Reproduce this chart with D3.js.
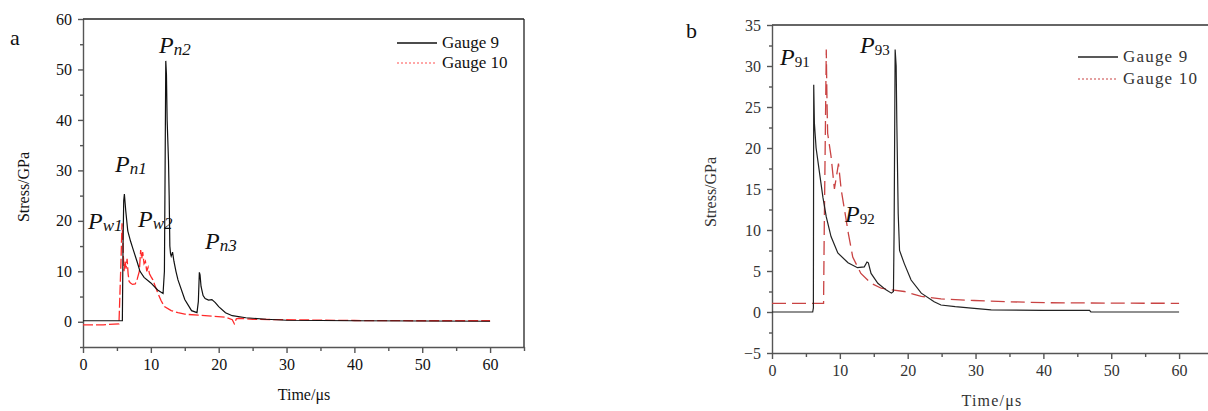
<!DOCTYPE html>
<html><head><meta charset="utf-8">
<script src="https://cdn.jsdelivr.net/npm/d3@7"></script>
<style>body{margin:0;background:#fff}svg{display:block}svg text{font-family:"Liberation Serif","DejaVu Serif",serif !important}</style>
</head><body><svg id="c" width="1208" height="411"></svg>
<script>
// ---- data ----
const aG9T = [0,5.8,5.9,6.0,6.1,6.3,6.6,7.0,7.4,8.0,8.4,9.0,10,11,11.8,12.0,12.1,12.2,12.3,12.4,12.6,12.7,12.8,12.9,13.0,13.2,13.4,13.7,14,15,16,16.8,17.0,17.15,17.25,17.4,17.7,18,18.5,19,19.5,20,21,22,24,27,30,40,50,60];
const aG9V = [0.2,0.2,15,24,25.3,22,18,16,14.3,11.8,10,8.8,7.7,6.3,5.6,10,30,51.7,49,40,32,25,15,13.5,13,13.8,12,10,8.3,4.4,2.2,1.8,4,9.8,9.3,7,5.2,4.6,4.3,4.4,3.8,3,1.8,1.2,0.8,0.5,0.3,0.2,0.15,0.1];
const aG10T = [0,3,5.3,5.6,5.75,5.85,5.95,6.05,6.2,6.35,6.5,6.65,6.8,7.0,7.3,7.7,8.0,8.3,8.5,8.65,8.8,9.0,9.2,9.4,9.6,9.8,10.0,10.3,10.6,11.0,11.5,12,13,14,15,17,19,21,22,22.3,22.6,23,25,30,40,50,60];
const aG10V = [-0.6,-0.6,-0.4,12,19.5,17,13,10,12,10.5,12.5,9.5,8,7.7,7.4,7.5,8.5,10,14.2,12.5,13.8,11.5,12,10,10.8,9.5,9.0,8.3,7.2,5.8,4.2,3,2.2,1.8,1.5,1.3,1.1,0.9,0.4,-0.4,0.6,0.7,0.5,0.4,0.25,0.2,0.2];
const bG9T = [0,6.0,6.1,6.15,6.25,6.5,7.0,7.5,8.0,8.7,9.7,11.2,12.6,13.6,14.0,14.2,14.6,15.6,16.8,17.6,17.9,18.0,18.15,18.3,18.4,18.6,18.8,19.5,20.5,22,23.9,24.9,27,29.8,32.3,40,46.8,47,60];
const bG9V = [0,0,0.5,27.7,23,20,17,14,11.6,9.2,7.2,6.0,5.4,5.5,6.1,6.0,4.7,3.5,2.7,2.3,2.5,10,32,30,23,12,7.5,5.9,3.9,2.3,1.25,0.85,0.65,0.45,0.25,0.2,0.2,0.0,0.0];
const bG10T = [0,7.6,7.7,8.0,8.1,8.2,8.7,9.2,9.8,10.2,10.7,11.25,11.9,13.1,14.6,16.1,17.6,19.5,22,24.9,29.8,34.8,40.7,50,60];
const bG10V = [1.05,1.05,10,32,26,21.8,19,15,18.1,14.9,12.4,9.6,6.7,4.7,3.5,2.9,2.7,2.5,1.9,1.6,1.4,1.25,1.13,1.08,1.06];
const xMajor = [0,10,20,30,40,50,60];
const xMinor = [5,15,25,35,45,55,65];
const aYMajor = [0,10,20,30,40,50,60];
const aYMinor = [-5,5,15,25,35,45,55];
const bYMajor = [-5,0,5,10,15,20,25,30,35];
const bYMinor = [-2.5,2.5,7.5,12.5,17.5,22.5,27.5,32.5];
const seriesNames = ["Gauge 9","Gauge 10"];

const FONT = '"Liberation Serif","DejaVu Serif",serif';
const svg = d3.select("#c");
svg.append("rect").attr("width",1208).attr("height",411).attr("fill","#fff");

function panel(o){
  const g = svg.append("g").attr("font-family",FONT);
  const x = d3.scaleLinear().domain([0,65]).range([o.x0,o.x1]);
  const y = d3.scaleLinear().domain(o.yd).range([o.y0,o.y1]);
  const fmt = d => d<0 ? "\u2212"+Math.abs(d) : String(d);
  const xa = g.append("g").attr("transform",`translate(0,${o.y0})`)
    .call(d3.axisBottom(x).tickValues(xMajor).tickSize(6).tickPadding(6).tickSizeOuter(0).tickFormat(fmt));
  const xm = g.append("g").attr("transform",`translate(0,${o.y0})`)
    .call(d3.axisBottom(x).tickValues(xMinor).tickSize(4).tickSizeOuter(0).tickFormat(""));
  const ya = g.append("g").attr("transform",`translate(${o.x0},0)`)
    .call(d3.axisLeft(y).tickValues(o.yMajor).tickSize(5).tickPadding(6).tickSizeOuter(0).tickFormat(fmt));
  const ym = g.append("g").attr("transform",`translate(${o.x0},0)`)
    .call(d3.axisLeft(y).tickValues(o.yMinor).tickSize(3).tickSizeOuter(0).tickFormat(""));
  [xa,xm,ya,ym].forEach(a=>{
    a.attr("font-family",FONT).attr("font-size",16);
    a.selectAll("path,line").attr("stroke",o.axisColor).attr("stroke-width",1.4);
    a.selectAll("text").attr("font-size",16).attr("fill",o.textColor).attr("font-family",FONT);
  });
  xm.select("path").remove(); ym.select("path").remove();
  g.append("line").attr("x1",o.x0).attr("x2",o.frameRight?o.x1:1208).attr("y1",o.y1).attr("y2",o.y1)
    .attr("stroke",o.frameColor).attr("stroke-width",1.3);
  if(o.frameRight) g.append("line").attr("x1",o.x1).attr("x2",o.x1).attr("y1",o.y1).attr("y2",o.y0)
    .attr("stroke",o.frameColor).attr("stroke-width",1.3);
  const line = d3.line().x(d=>x(d[0])).y(d=>y(d[1]));
  g.append("path").datum(o.g10T.map((t,i)=>[t,o.g10V[i]])).attr("d",line)
    .attr("fill","none").attr("stroke",o.redColor).attr("stroke-width",1.3).attr("stroke-dasharray",o.dash);
  g.append("path").datum(o.g9T.map((t,i)=>[t,o.g9V[i]])).attr("d",line)
    .attr("fill","none").attr("stroke",o.blackColor).attr("stroke-width",1.2);
  const L = o.legend;
  g.append("line").attr("x1",L.x).attr("x2",L.x+40).attr("y1",L.y).attr("y2",L.y).attr("stroke",o.blackColor).attr("stroke-width",1.3);
  g.append("line").attr("x1",L.x).attr("x2",L.x+40).attr("y1",L.y+L.dy).attr("y2",L.y+L.dy).attr("stroke",o.legRed).attr("stroke-width",1.2).attr("stroke-dasharray","2,2");
  seriesNames.forEach((s,i)=>{
    g.append("text").attr("x",L.x+45).attr("y",L.y+5+i*L.dy).attr("font-size",17).attr("fill",o.textColor)
      .attr("letter-spacing",L.ls).text(s);
  });
  g.append("text").attr("x",o.xt[0]).attr("y",o.xt[1]).attr("text-anchor","middle").attr("font-size",16)
    .attr("fill",o.textColor).attr("letter-spacing",L.ls).text("Time/\u03bcs");
  g.append("text").attr("transform",`translate(${o.yt[0]},${o.yt[1]}) rotate(-90)`).attr("text-anchor","middle")
    .attr("font-size",16).attr("fill",o.textColor).text("Stress/GPa");
  g.append("text").attr("x",o.lab[0]).attr("y",o.lab[1]).attr("font-size",22).attr("fill","#111").text(o.lab[2]);
  o.ann.forEach(a=>{
    const t = g.append("text").attr("x",a[0]).attr("y",a[1]).attr("fill","#111");
    t.append("tspan").attr("font-size",24).attr("font-style","italic").text("P");
    t.append("tspan").attr("font-size",o.subSize).attr("font-style",o.subItalic?"italic":"normal").attr("dy",2).text(a[2]);
  });
}

panel({x0:83,x1:524,y0:347,y1:19,yd:[-5,60],yMajor:aYMajor,yMinor:aYMinor,
  axisColor:"#555",textColor:"#111",frameColor:"#222",frameRight:true,
  g9T:aG9T,g9V:aG9V,g10T:aG10T,g10V:aG10V,redColor:"#ff2a2a",blackColor:"#111",legRed:"#ff5050",dash:"10,3",
  legend:{x:397,y:43,dy:20,ls:0},xt:[304,400],yt:[29,187],lab:[10,45,"a"],subSize:17,subItalic:true,
  ann:[[159,53,"n2"],[115,172,"n1"],[88,229,"w1"],[138,227,"w2"],[205,249,"n3"]]});

panel({x0:772,x1:1213,y0:353,y1:25,yd:[-5,35],yMajor:bYMajor,yMinor:bYMinor,
  axisColor:"#555",textColor:"#333",frameColor:"#333",frameRight:false,
  g9T:bG9T,g9V:bG9V,g10T:bG10T,g10V:bG10V,redColor:"#c94343",blackColor:"#222",legRed:"#c94343",dash:"14,6",
  legend:{x:1078,y:57,dy:22,ls:1.2},xt:[992,406],yt:[716,192],lab:[686,38,"b"],subSize:15,subItalic:false,
  ann:[[780,65,"91"],[860,53,"93"],[845,222,"92"]]});
</script></body></html>
